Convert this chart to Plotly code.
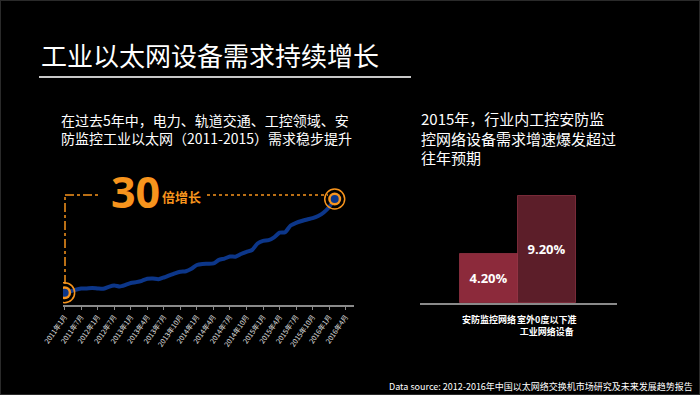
import plotly.graph_objects as go

W, H = 700, 395

# ---------------- data ----------------
months_idx = list(range(50))
demand = [12.3, 13.5, 15.3, 16.4, 16.6, 17.0, 16.5, 16.2, 18.2, 19.5,
          18.5, 20.0, 22.0, 22.9, 24.2, 26.2, 26.5, 25.8, 27.5, 29.6,
          31.6, 33.2, 33.8, 36.2, 40.0, 41.0, 41.2, 41.6, 45.1, 46.4,
          48.5, 48.3, 51.0, 53.1, 55.0, 61.5, 64.2, 64.8, 67.7, 72.3,
          72.8, 79.5, 82.2, 84.0, 85.5, 86.8, 89.0, 92.5, 98.0, 106.0]
tick_labels = ["2011年1月", "2011年7月", "2012年1月", "2012年7月", "2013年1月",
               "2013年4月", "2013年7月", "2013年10月", "2014年1月", "2014年4月",
               "2014年7月", "2014年10月", "2015年1月", "2015年4月", "2015年7月",
               "2015年10月", "2016年1月", "2016年4月"]
tick_positions = [3 * i for i in range(len(tick_labels))]

bar_categories = ["<b>安防监控网络</b>", "<b>室外0度以下准<br>工业网络设备</b>"]
bar_values = [4.2, 9.2]
bar_colors = ["#8c2a3b", "#5c1e29"]

ORANGE = "#F7941D"
NAVY = "#0c3689"
CJK = "Noto Sans CJK SC"


def px(x):
    return x / W


def py(y):
    return 1 - y / H


fig = go.Figure()

# ---------------- left line chart ----------------
fig.add_trace(go.Scatter(
    x=months_idx, y=demand, mode="lines",
    line=dict(color=NAVY, width=4, shape="spline", smoothing=0.6),
    xaxis="x", yaxis="y", hoverinfo="skip", showlegend=False))

ends_x = [months_idx[0], months_idx[-1]]
ends_y = [demand[0], demand[-1]]
fig.add_trace(go.Scatter(
    x=ends_x, y=ends_y, mode="markers",
    marker=dict(size=20, color="rgba(0,0,0,0)", line=dict(color=ORANGE, width=1.5)),
    xaxis="x", yaxis="y", hoverinfo="skip", showlegend=False))
fig.add_trace(go.Scatter(
    x=ends_x, y=ends_y, mode="markers",
    marker=dict(size=13, color=ORANGE, line=dict(width=0)),
    xaxis="x", yaxis="y", hoverinfo="skip", showlegend=False))
fig.add_trace(go.Scatter(
    x=ends_x, y=ends_y, mode="markers",
    marker=dict(size=8, color=NAVY, line=dict(width=0)),
    xaxis="x", yaxis="y", hoverinfo="skip", showlegend=False))

# ---------------- right bar chart ----------------
fig.add_trace(go.Bar(
    x=bar_categories, y=bar_values,
    marker=dict(color=bar_colors, line=dict(color="rgba(170,60,80,0.6)", width=1)),
    texttemplate="<b>%{y:.2f}%</b>", textposition="inside", insidetextanchor="middle",
    textfont=dict(family="Open Sans", size=13, color="white"),
    xaxis="x2", yaxis="y2", hoverinfo="skip", showlegend=False, width=1.0))

fig.update_layout(
    width=W, height=H, autosize=False,
    margin=dict(l=0, r=0, t=0, b=0, autoexpand=False),
    paper_bgcolor="#000000", plot_bgcolor="rgba(0,0,0,0)",
    bargap=0,
    xaxis=dict(domain=[px(63), px(354)], range=[-0.3, 52.5], automargin=False,
               tickmode="array", tickvals=tick_positions, ticktext=tick_labels,
               tickangle=-55, tickfont=dict(family=CJK, size=7, color="#e0e0e0"),
               showline=True, linecolor="#8a8a8a", linewidth=2,
               ticks="outside", ticklen=3, tickcolor="#8a8a8a",
               showgrid=False, zeroline=False),
    yaxis=dict(domain=[py(305), py(160)], range=[0, 145], visible=False,
               automargin=False, showgrid=False, zeroline=False),
    xaxis2=dict(domain=[px(420), px(617)], range=[-1.2, 2.22], type="category",
                tickangle=0, automargin=False, ticklabelstandoff=7,
                tickfont=dict(family=CJK, size=9, color="white"),
                showline=True, linecolor="#8a8a8a", linewidth=2,
                ticks="", showgrid=False, zeroline=False, anchor="y2"),
    yaxis2=dict(domain=[py(303), py(180)], range=[0, 10.6], visible=False,
                automargin=False, showgrid=False, zeroline=False, anchor="x2"),
)

shapes = [
    # frame
    dict(type="rect", xref="paper", yref="paper", x0=0, y0=0, x1=1, y1=1,
         line=dict(color="#2a2a2a", width=2)),
    # title underline
    dict(type="line", xref="paper", yref="paper", x0=px(39), x1=px(411),
         y0=py(77), y1=py(77), line=dict(color="#c8c8c8", width=2)),
    # orange guides
    dict(type="line", xref="paper", yref="paper", x0=px(65), x1=px(65),
         y0=py(284), y1=py(195), line=dict(color=ORANGE, width=1.5, dash="dashdot")),
    dict(type="line", xref="paper", yref="paper", x0=px(65), x1=px(101),
         y0=py(195), y1=py(195), line=dict(color=ORANGE, width=1.5, dash="dashdot")),
    dict(type="line", xref="paper", yref="paper", x0=px(207), x1=px(328),
         y0=py(195), y1=py(195), line=dict(color=ORANGE, width=1.5, dash="dot")),
]
fig.update_layout(shapes=shapes)

ann = [
    dict(text="工业以太网设备需求持续增长", x=px(39), y=py(54), xanchor="left", yanchor="middle",
         font=dict(family=CJK, size=26, color="white")),
    dict(text="在过去5年中，电力、轨道交通、工控领域、安<br>防监控工业以太网（2011-2015）需求稳步提升",
         x=px(59), y=py(129), xanchor="left", yanchor="middle", align="left",
         font=dict(family=CJK, size=14, color="white")),
    dict(text="2015年，行业内工控安防监<br>控网络设备需求增速爆发超过<br>往年预期",
         x=px(419), y=py(138), xanchor="left", yanchor="middle", align="left",
         font=dict(family=CJK, size=15, color="white")),
    dict(text="<b>30</b>", x=px(135), y=py(192), xanchor="center", yanchor="middle",
         font=dict(family="Open Sans", size=43, color=ORANGE)),
    dict(text="<b>倍增长</b>", x=px(181), y=py(196), xanchor="center", yanchor="middle",
         font=dict(family=CJK, size=13, color=ORANGE)),
    dict(text="Data source: 2012-2016年中国以太网络交换机市场研究及未来发展趋势报告",
         x=px(695), y=py(386), xanchor="right", yanchor="middle",
         font=dict(family=CJK, size=9, color="white")),
]
for a in ann:
    a.update(xref="paper", yref="paper", showarrow=False)
fig.update_layout(annotations=ann)

fig.write_html("out.html", config={"displayModeBar": False},
               post_script="document.body.style.margin='0px';document.body.style.background='#000';")
